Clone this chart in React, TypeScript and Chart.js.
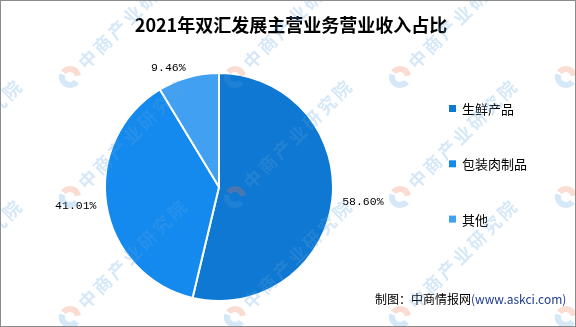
import React, { useEffect, useRef } from 'react';
import { Chart, registerables } from 'chart.js';

Chart.register(...registerables);

const TITLE = '2021年双汇发展主营业务营业收入占比';
const categories = ['生鲜产品', '包装肉制品', '其他'];
const shareValues = [58.6, 41.01, 9.46];
const shareLabels = ['58.60%', '41.01%', '9.46%'];
const sliceColors = ['#0F78D2', '#148AEF', '#42A0F2'];
const SOURCE_PREFIX = '制图：中商情报网';
const SOURCE_URL = '(www.askci.com)';
const WATERMARK = '中商产业研究院';

const W = 576;
const H = 327;
const CJK = '"Noto Sans CJK SC", "Noto Sans", sans-serif';

const backgroundPlugin = {
  id: 'bg',
  beforeDraw(chart: any) {
    const ctx = chart.ctx;
    ctx.save();
    ctx.fillStyle = '#ffffff';
    ctx.fillRect(0, 0, chart.width, chart.height);
    ctx.restore();
  },
};

const sliceLabelPlugin = {
  id: 'sliceLabels',
  afterDatasetsDraw(chart: any) {
    const ctx = chart.ctx;
    const meta = chart.getDatasetMeta(0);
    ctx.save();
    ctx.font = '11.5px "Liberation Mono", monospace';
    ctx.fillStyle = '#000';
    ctx.textBaseline = 'middle';
    meta.data.forEach((arc: any, i: number) => {
      const p = arc.getProps(['x', 'y', 'startAngle', 'endAngle', 'outerRadius'], true);
      const mid = (p.startAngle + p.endAngle) / 2;
      const r = p.outerRadius + 10;
      const c = Math.cos(mid);
      const s = Math.sin(mid);
      const ax = p.x + c * r;
      const ay = p.y + s * r;
      ctx.textAlign = c > 0.05 ? 'left' : c < -0.05 ? 'right' : 'center';
      ctx.fillText(shareLabels[i], ax, ay);
    });
    ctx.restore();
  },
};

const decorPlugin = {
  id: 'decor',
  afterDraw(chart: any) {
    const ctx = chart.ctx;
    ctx.save();
    // title
    ctx.font = `bold 18px ${CJK}`;
    ctx.fillStyle = '#000';
    ctx.textAlign = 'center';
    ctx.textBaseline = 'middle';
    ctx.fillText(TITLE, 291, 25);

    // legend
    const ds = chart.data.datasets[0];
    ctx.font = `13px ${CJK}`;
    ctx.textAlign = 'left';
    chart.data.labels.forEach((lab: string, i: number) => {
      const y = 108.5 + i * 55.3;
      ctx.fillStyle = ds.backgroundColor[i];
      ctx.fillRect(449, y - 3.5, 7, 7);
      ctx.fillStyle = '#000';
      ctx.fillText(lab, 462, y + 0.5);
    });

    // source
    ctx.font = `12px ${CJK}`;
    ctx.fillStyle = '#000';
    ctx.fillText(SOURCE_PREFIX, 375, 299.5);
    const pw = ctx.measureText(SOURCE_PREFIX).width;
    ctx.fillStyle = '#1F3C8C';
    ctx.fillText(SOURCE_URL, 375 + pw, 299.5);

    // watermark
    const cols = [-95, 70, 235, 400, 566];
    const rows = [77, 197, 317];
    for (const cx of cols) {
      for (const cy of rows) {
        ctx.save();
        ctx.translate(cx, cy);
        ctx.rotate(-Math.PI / 4);
        ctx.lineWidth = 6;
        ctx.strokeStyle = 'rgba(80,160,225,0.24)';
        ctx.beginPath();
        ctx.arc(0, 0, 8, Math.PI * 0.45, Math.PI * 1.35);
        ctx.stroke();
        ctx.strokeStyle = 'rgba(240,120,80,0.26)';
        ctx.beginPath();
        ctx.arc(0, 0, 8, Math.PI * 1.45, Math.PI * 2.2);
        ctx.stroke();
        ctx.font = `bold 18px ${CJK}`;
        (ctx as any).letterSpacing = '3px';
        ctx.fillStyle = 'rgba(90,165,225,0.25)';
        ctx.textAlign = 'left';
        ctx.textBaseline = 'middle';
        ctx.fillText(WATERMARK, 16, 0);
        ctx.restore();
      }
    }

    // border
    ctx.strokeStyle = '#8C8C8C';
    ctx.lineWidth = 1;
    ctx.strokeRect(0.5, 0.5, chart.width - 1, chart.height - 1);
    ctx.restore();
  },
};

export default function App() {
  const ref = useRef<HTMLCanvasElement>(null);
  useEffect(() => {
    document.body.style.margin = '0';
    const canvas = ref.current;
    if (!canvas) return;
    const chart = new Chart(canvas, {
      type: 'pie',
      data: {
        labels: categories,
        datasets: [
          {
            data: shareValues,
            backgroundColor: sliceColors,
            borderColor: '#ffffff',
            borderWidth: 2,
          },
        ],
      },
      options: {
        responsive: false,
        animation: false,
        devicePixelRatio: 1,
        layout: { padding: { left: 104, right: 242, top: 72, bottom: 25 } },
        plugins: {
          legend: { display: false },
          title: { display: false },
          tooltip: { enabled: false },
        },
      },
      plugins: [backgroundPlugin, sliceLabelPlugin, decorPlugin],
    } as any);
    return () => chart.destroy();
  }, []);
  return (
    <div style={{ width: W, height: H }}>
      <canvas ref={ref} width={W} height={H} style={{ display: 'block', width: W, height: H }} />
    </div>
  );
}
